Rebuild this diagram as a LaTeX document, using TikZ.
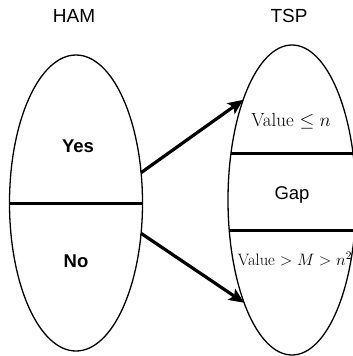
\documentclass[tikz,border=0pt]{standalone}
\usepackage{fontspec}
\usepackage{fix-cm}
\setsansfont{Liberation Sans}
\usetikzlibrary{shapes.geometric,arrows.meta}

\begin{document}
\begin{tikzpicture}[x=1pt,y=-1pt,
  set/.style={draw=black, line width=1.3pt, ellipse, inner sep=0pt, outer sep=0pt},
  divider/.style={line width=3pt},
  map/.style={line width=3.2pt, -{Stealth[length=15pt,width=13pt,inset=3pt]}},
  title/.style={font=\sffamily\fontsize{19}{22}\selectfont},
  part/.style={font=\sffamily\bfseries\fontsize{18.5}{22}\selectfont},
  bound/.style={inner sep=0pt}]
  \useasboundingbox (0,0) rectangle (353,356);
  \coordinate (edge) at (353,0);

  % the two sets
  \node[set, minimum width=133pt, minimum height=296pt] (ham) at (76,203) {};
  \node[set, minimum width=128pt, minimum height=310pt] (tsp) at (292,200) {};

  % headings
  \node[title] (hamlabel) at (74,16) {HAM};
  \node[title] (tsplabel) at (289,16) {TSP};

  % division of HAM
  \draw[divider] (ham.west) -- (ham.east);
  \node[part] (yes) at (78,146) {Yes};
  \node[part] (no) at (76,261) {No};

  % division of TSP
  \draw[divider] (tsp.143.7) -- (tsp.143.7 -| edge);
  \draw[divider] (tsp.206.6) -- (tsp.206.6 -| edge);
  \node[bound, font=\fontsize{19}{22}\selectfont] (low) at (291,121) {Value $\leq n$};
  \node[font=\sffamily\fontsize{18.5}{22}\selectfont] (gap) at (292,195) {Gap};
  \node[bound, font=\fontsize{16.5}{19}\selectfont] (high) at (295,259) {Value $> M > n^2$};

  % the reduction
  \draw[map] (ham.25) -- (tsp.116.3);
  \draw[map] (ham.-25) -- (tsp.245.9);
\end{tikzpicture}
\end{document}
